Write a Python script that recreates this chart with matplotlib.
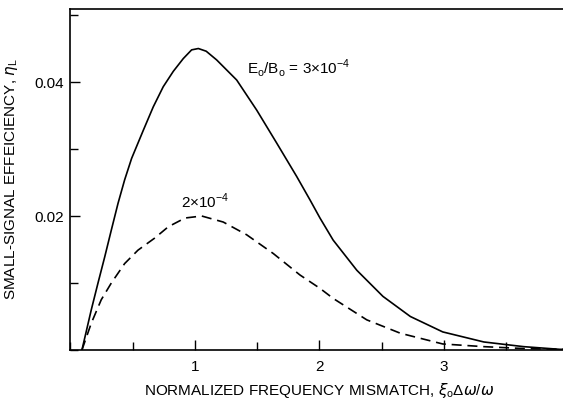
import matplotlib.pyplot as plt
from matplotlib.ticker import MultipleLocator

plt.rcParams['font.family'] = ['Liberation Sans', 'DejaVu Sans']
plt.rcParams['mathtext.fontset'] = 'custom'
plt.rcParams['mathtext.rm'] = 'Liberation Sans'
plt.rcParams['mathtext.it'] = 'DejaVu Sans:italic'

# E0/B0 = 3e-4 (solid)
x_hi = [0.092, 0.167, 0.221, 0.275, 0.328, 0.382, 0.435, 0.491, 0.585, 0.665, 0.745,
        0.826, 0.906, 0.973, 1.027, 1.09, 1.174, 1.335, 1.496, 1.656, 1.817, 1.924,
        2.004, 2.11, 2.30, 2.51, 2.73, 2.99, 3.32, 3.64, 3.93, 4.0]
y_hi = [0.0, 0.0060, 0.0100, 0.0139, 0.0179, 0.0219, 0.0254, 0.0286, 0.0328, 0.0363,
        0.0393, 0.0416, 0.0435, 0.0448, 0.0450, 0.0446, 0.0433, 0.0403, 0.0358, 0.0309,
        0.0259, 0.0224, 0.0197, 0.0164, 0.0119, 0.0080, 0.0050, 0.0027, 0.0012, 0.0005,
        0.0001, 0.0001]

# E0/B0 = 2e-4 (dashed)
x_lo = [0.092, 0.167, 0.247, 0.328, 0.435, 0.542, 0.676, 0.786, 0.92, 1.054, 1.227,
        1.415, 1.629, 1.843, 2.004, 2.11, 2.38, 2.65, 2.99, 3.32, 3.66, 4.0]
y_lo = [0.0, 0.0040, 0.0075, 0.0100, 0.0129, 0.0149, 0.0167, 0.0184, 0.0197, 0.0200,
        0.0191, 0.0172, 0.0144, 0.0112, 0.0092, 0.0077, 0.0045, 0.0025, 0.0009, 0.0005,
        0.0002, 0.0001]

fig = plt.figure(figsize=(5.63, 4.0), dpi=100)
ax = fig.add_axes([0.1252, 0.125, 0.8845, 0.8525])

ax.plot(x_hi, y_hi, color='black', lw=1.2, solid_joinstyle='round')
ax.plot(x_lo, y_lo, color='black', lw=1.2, dashes=(6, 3.5))

ax.set_xlim(0, 4)
ax.set_ylim(0, 0.0509)
ax.set_xticks([1, 2, 3, 4])
ax.xaxis.set_minor_locator(MultipleLocator(0.5))
ax.set_yticks([0.02, 0.04])
ax.set_yticklabels(['0.02', '0.04'])
ax.yaxis.set_minor_locator(MultipleLocator(0.01))
ax.tick_params(which='both', direction='in', labelsize=11, width=1)
ax.tick_params(which='major', length=7)
ax.tick_params(which='minor', length=6)
ax.tick_params(axis='x', which='major', pad=7)
ax.tick_params(axis='y', which='major', pad=5)
for s in ax.spines.values():
    s.set_linewidth(1.2)

ax.text(1.42, 0.0421, r'E$_\mathrm{o}$/B$_\mathrm{o}$ = 3×10$^{-4}$', fontsize=11, va='center')
ax.text(1.08, 0.0222, r'2×10$^{-4}$', fontsize=11, ha='center', va='center')

ax.set_xlabel(r'NORMALIZED FREQUENCY MISMATCH, $\xi_\mathrm{o}\Delta\omega/\omega$',
              fontsize=11, labelpad=5)
ax.set_ylabel(r'SMALL-SIGNAL EFFEICIENCY, $\eta_\mathrm{L}$', fontsize=11, labelpad=10)

fig.savefig('out.png', dpi=100)
